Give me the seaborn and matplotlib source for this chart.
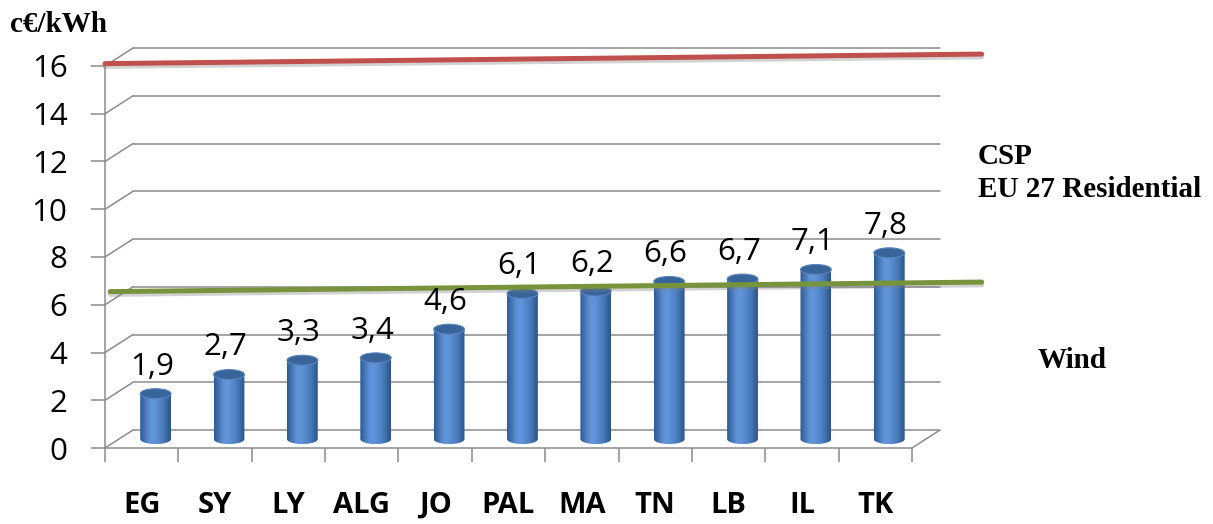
import matplotlib
matplotlib.use("Agg")
import matplotlib.pyplot as plt
import numpy as np
import pandas as pd
import seaborn as sns
from matplotlib import colors, patheffects
from matplotlib.patches import Ellipse
from matplotlib.path import Path

countries = ['EG', 'SY', 'LY', 'ALG', 'JO', 'PAL', 'MA', 'TN', 'LB', 'IL', 'TK']
cost = [1.9, 2.7, 3.3, 3.4, 4.6, 6.1, 6.2, 6.6, 6.7, 7.1, 7.8]
y_ticks = [0, 2, 4, 6, 8, 10, 12, 14, 16]
# reference levels (value at the left and at the right end of the line)
eu_residential = [16.1, 16.5]
wind = [6.55, 6.95]

W, H = 1213, 524
DX, DY = 0.38, 0.75   # offset of the back wall, in data units
GRID = '#8c8c8c'

sns.set_style('white')
plt.rcParams['font.family'] = ['Open Sans', 'DejaVu Sans']
plt.rcParams['text.color'] = 'black'
plt.rcParams['xtick.color'] = 'black'
plt.rcParams['ytick.color'] = 'black'

fig = plt.figure(figsize=(W / 100, H / 100), dpi=100)
ax = fig.add_axes([105 / W, 1 - 448 / H, 807 / W, 382 / H])

df = pd.DataFrame({'country': countries, 'cost': cost})
sns.barplot(data=df, x='country', y='cost', color='#4f81bd', width=0.42,
            ax=ax, zorder=3)

# 3d-ish box: back wall gridlines, left diagonals, floor
for v in y_ticks:
    ax.plot([-0.5 + DX, 10.5 + DX], [v + DY, v + DY], color=GRID, lw=1.1,
            clip_on=False, zorder=1)
    ax.plot([-0.5, -0.5 + DX], [v, v + DY], color=GRID, lw=1.1,
            clip_on=False, zorder=1)
ax.plot([10.5, 10.5 + DX], [0, DY], color=GRID, lw=1.1, clip_on=False, zorder=1)

# turn the flat bars into cylinders
cyl = colors.LinearSegmentedColormap.from_list(
    'cyl', [(0, '#2f5b93'), (0.3, '#5d90d5'), (0.45, '#6296da'),
            (0.75, '#497cbf'), (1, '#2b548a')])
grad = np.linspace(0, 1, 64).reshape(1, -1)
eh = 0.42
for p, v in zip(list(ax.patches), cost):
    w = p.get_width()
    cx = p.get_x() + w / 2 + DX / 2
    y0 = DY / 2
    h = p.get_height()
    p.set_visible(False)
    t = np.linspace(np.pi, 2 * np.pi, 40)
    pts = np.column_stack([cx + w / 2 * np.cos(t), y0 + eh / 2 * np.sin(t)])
    pts = np.vstack([pts, [cx + w / 2, y0 + h], [cx - w / 2, y0 + h], pts[:1]])
    body = Path(pts, closed=True)
    im = ax.imshow(grad, cmap=cyl, aspect='auto', zorder=3,
                   extent=[cx - w / 2, cx + w / 2, y0 - eh / 2, y0 + h])
    im.set_clip_path(body, ax.transData)
    ax.add_patch(Ellipse((cx, y0 + h), w, eh, facecolor='#386499',
                         edgecolor='#5a86c2', lw=0.8, zorder=4))
    ax.text(cx - 0.05, y0 + h + eh / 2 + 0.59, f'{v:.1f}'.replace('.', ','),
            ha='center', va='baseline', fontsize=22.5, color='black', zorder=6)

# reference lines
shadow = [patheffects.SimpleLineShadow(offset=(0, -2), shadow_color='gray',
                                       alpha=0.35),
          patheffects.Normal()]
ax.plot([-0.5, 11.45], eu_residential, color='#c0504d', lw=3.6,
        clip_on=False, zorder=5, path_effects=shadow)
ax.plot([-0.43, 11.45], wind, color='#77933c', lw=3.6,
        clip_on=False, zorder=5, path_effects=shadow)

ax.set_xlim(-0.5, 10.5)
ax.set_ylim(0, 16)
ax.set_yticks(y_ticks)
ax.set_xticks(range(len(countries)))
ax.set_xticklabels(countries, fontweight='bold')
ax.set_xticks(np.arange(-0.5, 11, 1), minor=True)
ax.set_xlabel('')
ax.set_ylabel('')
ax.tick_params(axis='y', left=True, length=10, width=1.1, color=GRID,
               labelcolor='black', pad=17, labelsize=22.5)
ax.tick_params(axis='x', which='major', bottom=True, length=0, pad=31,
               labelcolor='black', labelsize=21)
ax.tick_params(axis='x', which='minor', bottom=True, length=10, width=1.1,
               color=GRID)
sns.despine(ax=ax)
for s in ['left', 'bottom']:
    ax.spines[s].set_color(GRID)
    ax.spines[s].set_linewidth(1.1)

serif = dict(family=['Liberation Serif', 'DejaVu Serif'], fontweight='bold',
             fontsize=21, va='baseline', color='black')
fig.text(10 / W, 1 - 32 / H, 'c€/kWh', **serif)
fig.text(978 / W, 1 - 164 / H, 'CSP', **serif)
fig.text(978 / W, 1 - 197 / H, 'EU 27 Residential', **serif)
fig.text(1038 / W, 1 - 368 / H, 'Wind', **serif)

fig.savefig('out.png', dpi=100)
